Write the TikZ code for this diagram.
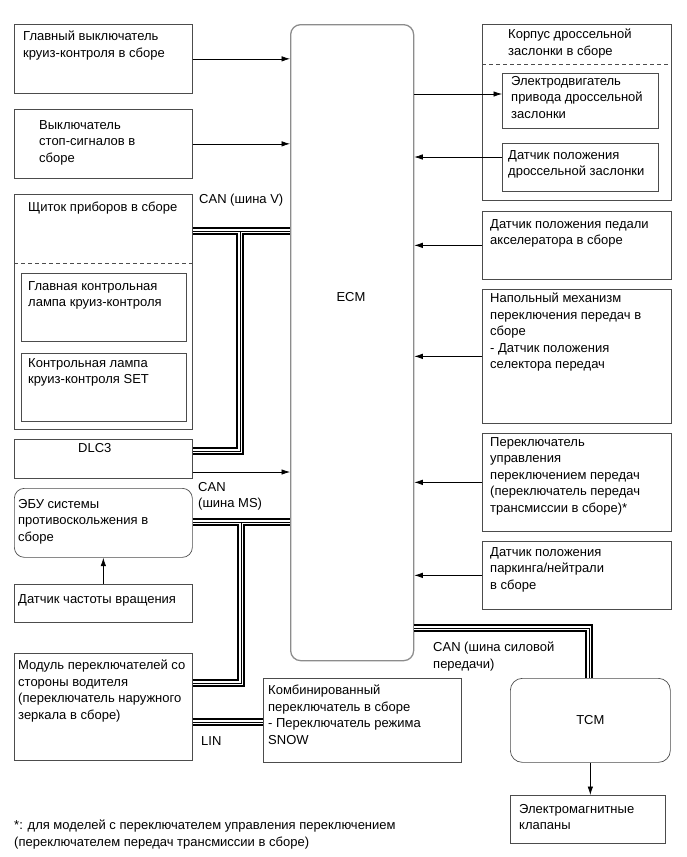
\documentclass[tikz,border=0pt]{standalone}
\usepackage{fontspec}
\setmainfont{Liberation Sans}
\usetikzlibrary{arrows.meta, positioning}

\begin{document}
\begin{tikzpicture}[x=1pt, y=-1pt,
    blk/.style = {draw=black!70, line width=0.7pt, anchor=north west, inner sep=0pt},
    txt/.style = {anchor=north west, align=left, inner sep=0pt, font=\fontsize{13}{16.5}\selectfont},
    arr/.style = {-{Latex[length=8.5pt,width=5.5pt]}, line width=0.7pt},
    bus/.style = {line width=2pt, double=white, double distance=3.6pt, postaction={draw, line width=1pt}}]
    \useasboundingbox (0,0) rectangle (686,857);

    % ECM
    \node[blk, draw=black!45, line width=1.3pt, rounded corners=10pt, minimum width=123pt, minimum height=636pt] (ecm) at (290,24) {};
    \node[txt, anchor=center] (ecm-t) at (351,297) {ECM};

    % left side
    \node[blk, minimum width=178pt, minimum height=69pt] (gv) at (14,24) {};
    \node[txt, below right=7pt and 9pt of gv.north west] (gv-t) {Главный выключатель\\круиз-контроля в сборе};
    \node[blk, minimum width=178pt, minimum height=69pt] (ss) at (14,109) {};
    \node[txt, below right=11pt and 25pt of ss.north west] (ss-t) {Выключатель\\стоп-сигналов в\\сборе};

    \node[blk, minimum width=178pt, minimum height=235pt] (shp) at (14,194) {};
    \node[txt, below right=8pt and 14pt of shp.north west] (shp-t) {Щиток приборов в сборе};
    \draw[blk, dash pattern=on 4pt off 3pt] (shp.west |- 0,263) -- (shp.east |- 0,263);
    \node[blk, minimum width=165pt, minimum height=68pt] (gl) at (21,273) {};
    \node[txt, below right=8pt and 7pt of gl.north west] (gl-t) {Главная контрольная\\лампа круиз-контроля};
    \node[blk, minimum width=165pt, minimum height=68pt] (kl) at (21,353) {};
    \node[txt, below right=5pt and 7pt of kl.north west] (kl-t) {Контрольная лампа\\круиз-контроля SET};

    \node[blk, minimum width=178pt, minimum height=39pt] (dlc) at (14,439) {};
    \node[txt, below right=4pt and 64pt of dlc.north west] (dlc-t) {DLC3};
    \node[blk, rounded corners=10pt, minimum width=178pt, minimum height=69pt] (abs) at (14,488) {};
    \node[txt, below right=11pt and 4pt of abs.north west] (abs-t) {ЭБУ системы\\противоскольжения в\\сборе};
    \node[blk, minimum width=178pt, minimum height=38pt] (spd) at (14,584) {};
    \node[txt, below right=10pt and 4pt of spd.north west] (spd-t) {Датчик частоты вращения};
    \node[blk, minimum width=178pt, minimum height=107pt] (mod) at (14,653) {};
    \node[txt, below right=7pt and 4pt of mod.north west] (mod-t) {Модуль переключателей со\\стороны водителя\\(переключатель наружного\\зеркала в сборе)};
    \node[blk, minimum width=198pt, minimum height=84pt] (cmb) at (263,678) {};
    \node[txt, below right=7pt and 5pt of cmb.north west] (cmb-t) {Комбинированный\\переключатель в сборе\\- Переключатель режима\\SNOW};

    % right side
    \node[blk, minimum width=189pt, minimum height=176pt] (tb) at (482,24) {};
    \node[txt, below right=5pt and 26pt of tb.north west] (tb-t) {Корпус дроссельной\\заслонки в сборе};
    \draw[blk, dash pattern=on 4pt off 3pt] (tb.west |- 0,64) -- (tb.east |- 0,64);
    \node[blk, minimum width=156pt, minimum height=55pt] (mot) at (502,73) {};
    \node[txt, below right=3pt and 9pt of mot.north west] (mot-t) {Электродвигатель\\привода дроссельной\\заслонки};
    \node[blk, minimum width=156pt, minimum height=48pt] (tps) at (502,143) {};
    \node[txt, below right=7pt and 6pt of tps.north west] (tps-t) {Датчик положения\\дроссельной заслонки};
    \node[blk, minimum width=189pt, minimum height=68pt] (app) at (482,211) {};
    \node[txt, below right=8pt and 8pt of app.north west] (app-t) {Датчик положения педали\\акселератора в сборе};
    \node[blk, minimum width=189pt, minimum height=134pt] (fs) at (482,289) {};
    \node[txt, below right=4pt and 8pt of fs.north west] (fs-t) {Напольный механизм\\переключения передач в\\сборе\\- Датчик положения\\селектора передач};
    \node[blk, minimum width=189pt, minimum height=98pt] (scs) at (482,433) {};
    \node[txt, below right=4pt and 8pt of scs.north west] (scs-t) {Переключатель\\управления\\переключением передач\\(переключатель передач\\трансмиссии в сборе)*};
    \node[blk, minimum width=189pt, minimum height=68pt] (pn) at (482,541) {};
    \node[txt, below right=6pt and 8pt of pn.north west] (pn-t) {Датчик положения\\паркинга/нейтрали\\в сборе};
    \node[blk, rounded corners=12pt, minimum width=160pt, minimum height=84pt] (tcm) at (510,678) {};
    \node[txt, anchor=center] (tcm-t) at (tcm.center) {TCM};
    \node[blk, minimum width=155pt, minimum height=48pt] (sol) at (510,795) {};
    \node[txt, below right=9pt and 9pt of sol.north west] (sol-t) {Электромагнитные\\клапаны};

    % bus labels
    \node[txt] (canv-t) at (199,194) {CAN (шина V)};
    \node[txt] (canms-t) at (198,482) {CAN\\(шина MS)};
    \node[txt] (lin-t) at (201,736) {LIN};
    \node[txt] (canpt-t) at (433,642) {CAN (шина силовой\\передачи)};
    \node[txt] (note) at (14,820) {*: для моделей с переключателем управления переключением\\(переключателем передач трансмиссии в сборе)};

    % signals
    \draw[arr] (gv.east) -- (gv.east -| ecm.west);
    \draw[arr] (ss.east) -- (ss.east -| ecm.west);
    \draw[arr] (dlc.east |- 0,472) -- (ecm.west |- 0,472);
    \draw[arr] (spd.north) -- (abs.south);
    \draw[arr] (ecm.east |- 0,94) -- (mot.west |- 0,94);
    \draw[arr] (tps.west |- 0,157) -- (ecm.east |- 0,157);
    \draw[arr] (app.west) -- (app.west -| ecm.east);
    \draw[arr] (fs.west) -- (fs.west -| ecm.east);
    \draw[arr] (scs.west) -- (scs.west -| ecm.east);
    \draw[arr] (pn.west) -- (pn.west -| ecm.east);
    \draw[arr] (tcm.south) -- (tcm.south |- sol.north);

    % buses
    \coordinate (vbr) at (240,231);
    \coordinate (msbr) at (241,522);
    \coordinate (ptc) at (589,628);
    \draw[bus] (shp.east |- vbr) -- (ecm.west |- vbr) (vbr) |- (dlc.east |- 0,451);
    \draw[bus] (abs.east |- msbr) -- (ecm.west |- msbr) (msbr) |- (mod.east |- 0,683);
    \draw[bus] (mod.east |- 0,722) -- (cmb.west |- 0,722);
    \draw[bus] (ecm.east |- ptc) -| (ptc |- tcm.north);
\end{tikzpicture}
\end{document}
